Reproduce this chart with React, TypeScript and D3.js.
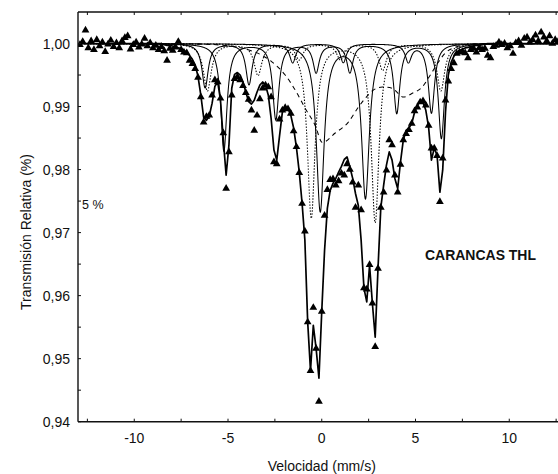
import React, { useEffect, useRef } from 'react';
import * as d3 from 'd3';

// ---------- channel grid ----------
const V_START = -12.9;
const V_STEP = 0.15;

// ---------- measured transmission (triangles), one per channel ----------
const transmission = [
  0.9998, 1.0003, 1.0021, 0.9993, 1.0004, 0.9990, 1.0006, 0.9996, 1.0002, 0.9987,
  0.9999, 1.0005, 0.9995, 1.0001, 0.9993, 1.0004, 1.0009, 1.0012, 0.9991, 0.9998,
  1.0002, 0.9994, 0.9999, 1.0008, 0.9996, 1.0001, 0.9993, 0.9997, 0.9990, 0.9995,
  0.9988, 0.9973, 0.9992, 0.9989, 0.9994, 1.0003, 0.9990, 0.9986, 0.9985, 0.9973,
  0.9968, 0.9960, 0.9946, 0.9915, 0.9875, 0.9884, 0.9886, 0.9918, 0.9942, 0.9939,
  0.9913, 0.9858, 0.9770, 0.9828, 0.9918, 0.9944, 0.9947, 0.9942, 0.9933, 0.9922,
  0.9911, 0.9894, 0.9862, 0.9886, 0.9912, 0.9929, 0.9934, 0.9931, 0.9915, 0.9812,
  0.9809, 0.9880, 0.9894, 0.9898, 0.9896, 0.9889, 0.9861, 0.9836, 0.9795, 0.9746,
  0.9702, 0.9558, 0.9481, 0.9581, 0.9516, 0.9432, 0.9575, 0.9727, 0.9768, 0.9784,
  0.9785, 0.9775, 0.9782, 0.9794, 0.9791, 0.9809, 0.9800, 0.9780, 0.9740, 0.9775,
  0.9736, 0.9612, 0.9610, 0.9649, 0.9588, 0.9519, 0.9643, 0.9740, 0.9764, 0.9799,
  0.9847, 0.9839, 0.9791, 0.9764, 0.9808, 0.9847, 0.9857, 0.9863, 0.9873, 0.9893,
  0.9899, 0.9907, 0.9909, 0.9902, 0.9870, 0.9834, 0.9834, 0.9822, 0.9749, 0.9818,
  0.9910, 0.9940, 0.9960, 0.9969, 0.9984, 0.9986, 0.9987, 0.9985, 0.9977, 0.9990,
  0.9992, 0.9986, 0.9993, 0.9990, 0.9992, 0.9981, 0.9977, 0.9995, 0.9997, 1.0002,
  0.9998, 1.0000, 0.9993, 0.9996, 0.9984, 1.0001, 1.0004, 0.9997, 1.0008, 1.0010,
  1.0002, 1.0006, 1.0013, 1.0004, 1.0018, 1.0010, 1.0004, 1.0012, 1.0000, 1.0006,
  1.0003,
];

// ---------- total fit (thick line), one per channel ----------
const fitTotal = [
  1.0000, 1.0000, 1.0000, 1.0000, 1.0000, 1.0000, 1.0000, 1.0000, 1.0000, 1.0000,
  1.0000, 1.0000, 1.0000, 1.0000, 1.0000, 1.0000, 1.0000, 1.0000, 1.0000, 1.0000,
  1.0000, 1.0000, 1.0000, 1.0000, 1.0000, 1.0000, 1.0000, 1.0000, 1.0000, 1.0000,
  0.9998, 0.9997, 0.9997, 0.9996, 0.9995, 0.9993, 0.9992, 0.9989, 0.9986, 0.9981,
  0.9975, 0.9966, 0.9948, 0.9918, 0.9883, 0.9878, 0.9885, 0.9905, 0.9932, 0.9939,
  0.9910, 0.9847, 0.9791, 0.9839, 0.9929, 0.9951, 0.9954, 0.9950, 0.9939, 0.9923,
  0.9908, 0.9904, 0.9910, 0.9923, 0.9934, 0.9939, 0.9934, 0.9918, 0.9881, 0.9831,
  0.9815, 0.9854, 0.9891, 0.9899, 0.9897, 0.9886, 0.9866, 0.9835, 0.9796, 0.9747,
  0.9688, 0.9558, 0.9481, 0.9553, 0.9516, 0.9469, 0.9575, 0.9672, 0.9739, 0.9767,
  0.9778, 0.9786, 0.9796, 0.9805, 0.9816, 0.9820, 0.9804, 0.9786, 0.9762, 0.9743,
  0.9688, 0.9612, 0.9590, 0.9648, 0.9588, 0.9534, 0.9643, 0.9740, 0.9775, 0.9807,
  0.9828, 0.9815, 0.9786, 0.9770, 0.9812, 0.9847, 0.9862, 0.9866, 0.9873, 0.9891,
  0.9902, 0.9908, 0.9907, 0.9894, 0.9867, 0.9815, 0.9834, 0.9823, 0.9764, 0.9799,
  0.9891, 0.9950, 0.9970, 0.9980, 0.9986, 0.9989, 0.9991, 0.9993, 0.9994, 0.9995,
  0.9996, 0.9997, 0.9997, 0.9998, 0.9999, 1.0000, 1.0000, 1.0000, 1.0000, 1.0000,
  1.0000, 1.0000, 1.0000, 1.0000, 1.0000, 1.0000, 1.0000, 1.0000, 1.0000, 1.0000,
  1.0000, 1.0000, 1.0000, 1.0000, 1.0000, 1.0000, 1.0000, 1.0000, 1.0000, 1.0000,
  1.0000,
];

// ---------- sub-spectra (Lorentzian lines: position mm/s, depth, half width) ----------
const sextetAPos = [-5.22, -2.45, -0.30, 1.50, 4.00, 6.38];
const sextetADepth = [0.0170, 0.0120, 0.0045, 0.0045, 0.0110, 0.0150];
const sextetBPos = [-6.22, -3.88, -1.55, 1.15, 4.62, 5.85];
const sextetBDepth = [0.0070, 0.0065, 0.0030, 0.0030, 0.0028, 0.0110];
const doubletAPos = [-0.08, 2.33];
const doubletADepth = [0.0265, 0.0244];
const doubletBPos = [-0.56, 2.85];
const doubletBDepth = [0.0276, 0.0283];
const sextetCPos = [-6.10, -3.40, -1.20, 1.00, 3.25, 6.35];
const sextetCDepth = [0.0075, 0.0050, 0.0025, 0.0025, 0.0042, 0.0075];

// broad component (dashed), read point by point
const broadVel = [-13, -6.48, -4.88, -3.81, -3.17, -2.66, -1.95, -1.41, -0.88, -0.35, 0.03, 0.72, 1.41, 1.95, 2.32, 2.75, 3.23, 3.76, 4.07, 4.35, 4.83, 5.36, 5.79, 6.21, 6.59, 7.12, 7.92, 8.99, 13];
const broadT = [1.0, 0.9999, 0.9996, 0.9989, 0.9981, 0.9971, 0.9950, 0.9926, 0.9897, 0.9870, 0.9843, 0.9858, 0.9875, 0.9899, 0.9913, 0.9926, 0.9931, 0.9929, 0.9921, 0.9915, 0.9921, 0.9931, 0.9950, 0.9970, 0.9985, 0.9994, 0.9999, 1.0, 1.0];

// ---------- axes ----------
const yMajorTicks = [0.94, 0.95, 0.96, 0.97, 0.98, 0.99, 1.0];
const yMinorTicks = [0.945, 0.955, 0.965, 0.975, 0.985, 0.995];
const xMajorTicks = [-10, -5, 0, 5, 10];
const xMinorTicks = [-12.5, -7.5, -2.5, 2.5, 7.5, 12.5];

const FONT = "'Liberation Sans', Arial, Helvetica, sans-serif";

export default function App() {
  const ref = useRef<SVGSVGElement>(null);

  useEffect(() => {
    const svg = d3.select(ref.current);
    svg.selectAll('*').remove();

    const left = 78, right = 565.5, top = 12, bottom = 421.7;
    const x = d3.scaleLinear().domain([-13, 13]).range([left, right]);
    const y = d3.scaleLinear().domain([0.94, 1.005]).range([bottom, top]);

    svg.append('rect').attr('width', 558).attr('height', 474).attr('fill', '#fff');

    svg.append('clipPath').attr('id', 'plotclip')
      .append('rect').attr('x', left).attr('y', top).attr('width', right - left).attr('height', bottom - top);

    const plot = svg.append('g').attr('clip-path', 'url(#plotclip)');

    const fine = d3.range(-13, 13.0001, 0.01);
    const lorentz = (pos: number[], depth: number[], hw: number) => (v: number) =>
      1 - d3.sum(pos, (p, k) => depth[k] / (1 + ((v - p) / hw) ** 2));

    const line = d3.line<[number, number]>().x(d => x(d[0])).y(d => y(d[1]));

    const comps: { f: (v: number) => number; dash: string | null }[] = [
      { f: lorentz(sextetAPos, sextetADepth, 0.2), dash: null },
      { f: lorentz(sextetBPos, sextetBDepth, 0.2), dash: null },
      { f: lorentz(doubletAPos, doubletADepth, 0.25), dash: null },
      { f: lorentz(doubletBPos, doubletBDepth, 0.25), dash: '1.4,1.6' },
      { f: lorentz(sextetCPos, sextetCDepth, 0.25), dash: '1.4,1.6' },
    ];
    comps.forEach(c => {
      plot.append('path')
        .attr('d', line(fine.map(v => [v, c.f(v)] as [number, number])))
        .attr('fill', 'none').attr('stroke', '#000').attr('stroke-width', 1.05)
        .attr('stroke-dasharray', c.dash);
    });

    // broad dashed component
    const broadPts = broadVel.map((v, k) => [v, broadT[k]] as [number, number]);
    plot.append('path')
      .attr('d', d3.line<[number, number]>().x(d => x(d[0])).y(d => y(d[1])).curve(d3.curveMonotoneX)(broadPts))
      .attr('fill', 'none').attr('stroke', '#000').attr('stroke-width', 1.05)
      .attr('stroke-dasharray', '4.5,4');

    // total fit
    const fitPts = fitTotal.map((t, i) => [V_START + i * V_STEP, t] as [number, number]);
    plot.append('path')
      .attr('d', line(fitPts))
      .attr('fill', 'none').attr('stroke', '#000').attr('stroke-width', 1.7)
      .attr('stroke-linejoin', 'round');

    // data triangles
    const tri = d3.symbol().type(d3.symbolTriangle).size(26)();
    plot.selectAll('path.pt').data(transmission).enter().append('path')
      .attr('class', 'pt')
      .attr('d', tri)
      .attr('transform', (t, i) => `translate(${x(V_START + i * V_STEP)},${y(t)})`)
      .attr('fill', '#000');

    // frame
    const ax = svg.append('g').attr('stroke', '#111').attr('stroke-width', 1.4).attr('fill', 'none');
    ax.append('line').attr('x1', left).attr('x2', left).attr('y1', top).attr('y2', bottom);
    ax.append('line').attr('x1', left).attr('x2', right).attr('y1', bottom).attr('y2', bottom);
    ax.append('line').attr('x1', left).attr('x2', right).attr('y1', top).attr('y2', top);

    const tk = svg.append('g').attr('stroke', '#111').attr('stroke-width', 1);
    [...yMajorTicks, ...yMinorTicks].forEach(t => {
      tk.append('line').attr('x1', left).attr('x2', left + 3).attr('y1', y(t)).attr('y2', y(t));
    });
    [...xMajorTicks, ...xMinorTicks].forEach(t => {
      tk.append('line').attr('x1', x(t)).attr('x2', x(t)).attr('y1', bottom).attr('y2', bottom - 3);
      tk.append('line').attr('x1', x(t)).attr('x2', x(t)).attr('y1', top).attr('y2', top + 3);
    });

    const txt = svg.append('g').attr('font-family', FONT).attr('fill', '#111');
    yMajorTicks.forEach(t => {
      txt.append('text').attr('x', 70).attr('y', y(t)).attr('dy', '0.36em')
        .attr('text-anchor', 'end').attr('font-size', 14)
        .text(t.toFixed(2).replace('.', ','));
    });
    xMajorTicks.forEach(t => {
      txt.append('text').attr('x', x(t)).attr('y', 443)
        .attr('text-anchor', 'middle').attr('font-size', 14)
        .text(String(t));
    });
    txt.append('text').attr('x', x(0)).attr('y', 471).attr('text-anchor', 'middle')
      .attr('font-size', 14).text('Velocidad (mm/s)');
    txt.append('text').attr('transform', 'translate(31,232) rotate(-90)').attr('text-anchor', 'middle')
      .attr('font-size', 14).text('Transmisión Relativa (%)');
    txt.append('text').attr('x', 82).attr('y', 209).attr('font-size', 12.5).text('5 %');
    txt.append('text').attr('x', 425).attr('y', 260).attr('font-size', 15.5).attr('font-weight', 'bold')
      .attr('textLength', 111).attr('lengthAdjust', 'spacingAndGlyphs').text('CARANCAS THL');
  }, []);

  return (
    <svg ref={ref} width={558} height={474}
      style={{ position: 'absolute', left: 0, top: 0, display: 'block' }} />
  );
}
